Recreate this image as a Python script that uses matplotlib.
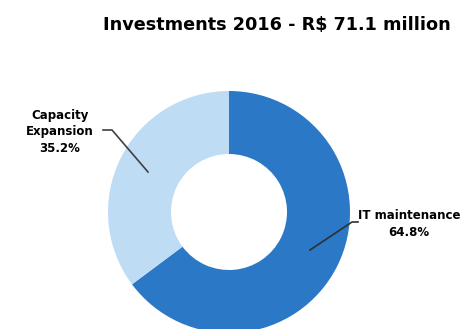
import matplotlib
matplotlib.use("Agg")
import matplotlib.pyplot as plt

title = "Investments 2016 - R$ 71.1 million"
categories = ["IT maintenance", "Capacity\nExpansion"]
values = [64.8, 35.2]
colors = ["#2B78C6", "#BFDCF5"]

W, H = 466, 329
fig = plt.figure(figsize=(W / 100, H / 100), dpi=100)
ax = fig.add_axes([0, 0, 1, 1])
cx, cy, R = 229, H - 212, 121
wedges, _ = ax.pie(values, colors=colors, startangle=90, counterclock=False,
                   center=(cx, cy), radius=R,
                   wedgeprops=dict(width=R - 58, linewidth=0))
ax.set_xlim(0, W)
ax.set_ylim(0, H)
ax.set_aspect("auto")
ax.axis("off")

fnt = dict(family="DejaVu Sans", fontweight="bold", color="black")
ax.text(277, H - 25, title, ha="center", va="center", fontsize=12.7, **fnt)

# labels
ax.text(60, H - 132, f"{categories[1]}\n{values[1]:.1f}%", ha="center", va="center",
        fontsize=8.5, linespacing=1.35, **fnt)
ax.text(409, H - 224, f"{categories[0]}\n{values[0]:.1f}%", ha="center", va="center",
        fontsize=8.5, linespacing=1.35, **fnt)

# leader lines
ax.plot([103, 112, 148], [H - 130, H - 130, H - 172], color="#404040", lw=1.2)
ax.plot([358, 352, 310], [H - 222, H - 222, H - 250], color="#303030", lw=1.2)

fig.savefig("out.png", dpi=100)
